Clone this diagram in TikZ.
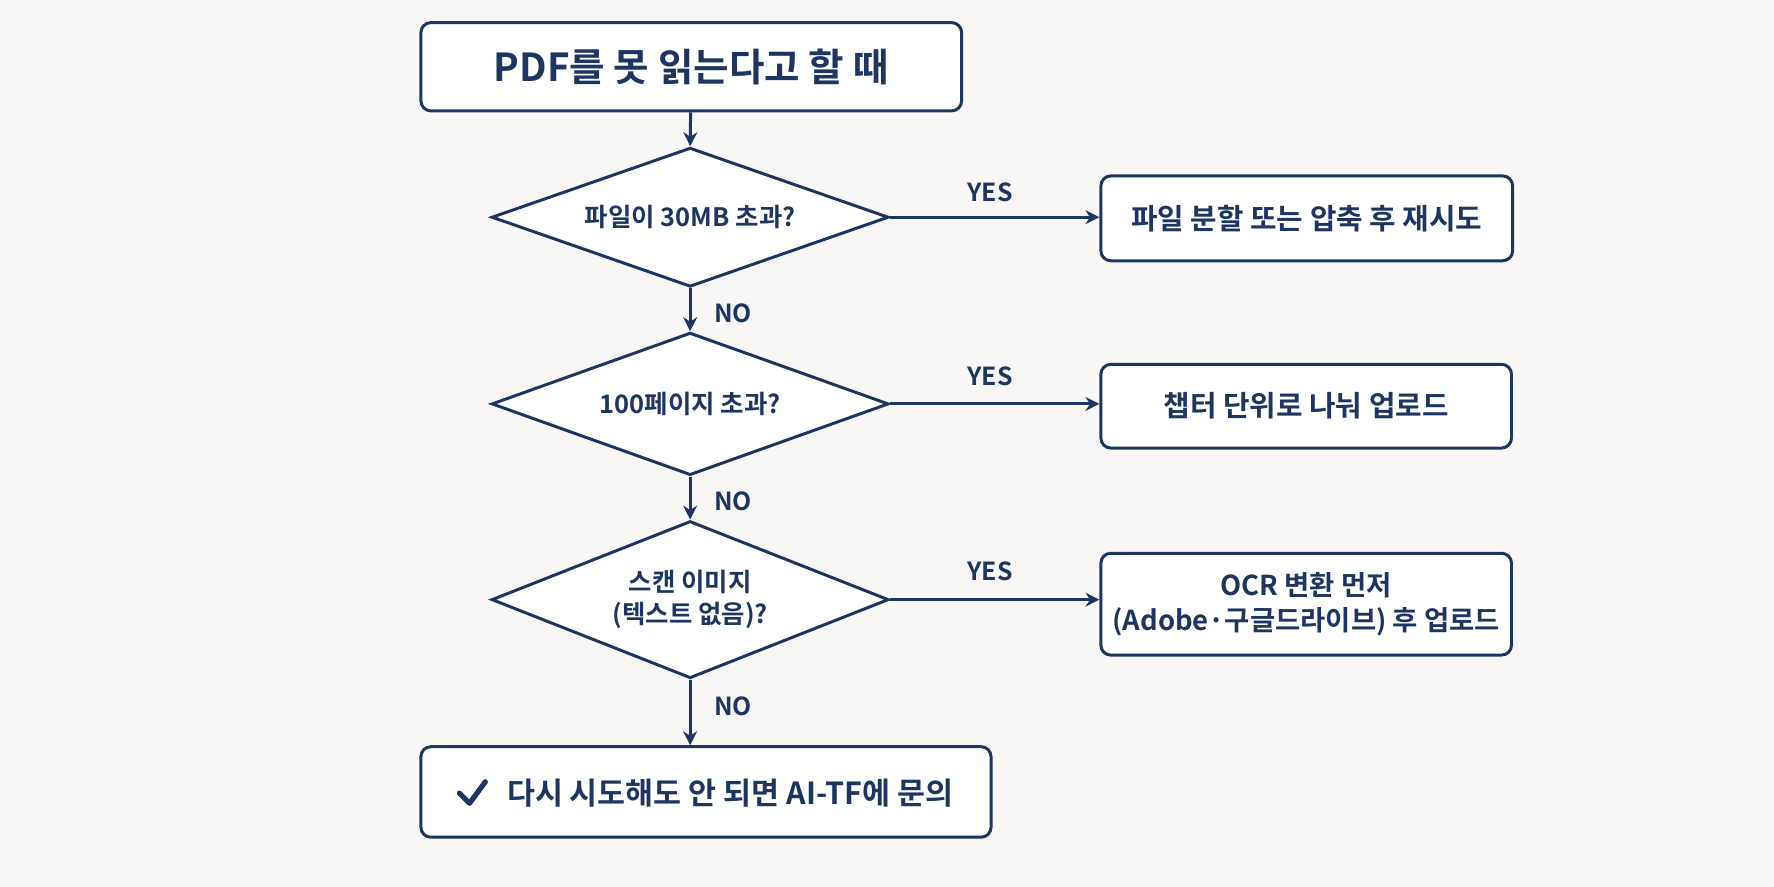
\documentclass[tikz,border=0pt]{standalone}
\usepackage{fontspec}
\setmainfont{Noto Sans CJK KR}[BoldFont={* Bold}]
\usetikzlibrary{shapes.geometric,arrows.meta}
\definecolor{navy}{HTML}{1F3561}
\definecolor{bg}{HTML}{F8F7F5}
\begin{document}
\begin{tikzpicture}[x=0.02cm,y=-0.02cm,
  box/.style={draw=navy,line width=1.5pt,rounded corners=5pt,fill=white,inner sep=0},
  dia/.style={draw=navy,line width=1.5pt,diamond,aspect=2.8,inner sep=0,fill=white,minimum width=7.02cm,minimum height=2.46cm},
  txt/.style={text=navy,font=\bfseries\fontsize{12.8}{16}\selectfont,align=center},
  btxt/.style={text=navy,font=\bfseries\fontsize{14.5}{19}\selectfont,align=center},
  lbl/.style={text=navy,font=\bfseries\fontsize{12.5}{15}\selectfont},
  arr/.style={draw=navy,line width=1.5pt,-{Stealth[length=7pt,width=7pt]}}]
\fill[bg] (0,0) rectangle (1568,784);
\useasboundingbox (0,0) rectangle (1568,784);
\node[box,minimum width=9.56cm,minimum height=1.56cm] (top) at (611,59) {};
\node[txt,font=\bfseries\fontsize{19.4}{22}\selectfont] at (top) {PDF를 못 읽는다고 할 때};
\node[dia] (d1) at (610,192) {};
\node[txt] at (d1) {파일이 30MB 초과?};
\node[dia,minimum height=2.52cm] (d2) at (610,357) {};
\node[txt] at (d2) {100페이지 초과?};
\node[dia,minimum height=2.78cm] (d3) at (610,530) {};
\node[txt] at (d3) {스캔 이미지\\(텍스트 없음)?};
\node[box,minimum width=7.28cm,minimum height=1.5cm] (b1) at (1155,193) {};
\node[btxt] at (b1) {파일 분할 또는 압축 후 재시도};
\node[box,minimum width=7.26cm,minimum height=1.48cm] (b2) at (1154.5,359) {};
\node[btxt] at (b2) {챕터 단위로 나눠 업로드};
\node[box,minimum width=7.26cm,minimum height=1.8cm] (b3) at (1154.5,534) {};
\node[btxt,font=\bfseries\fontsize{13.8}{18}\selectfont] at (b3) {OCR 변환 먼저\\(Adobe·구글드라이브) 후 업로드};
\node[box,minimum width=10.08cm,minimum height=1.6cm] (bot) at (624,700) {};
\node[txt,font=\bfseries\fontsize{15.3}{18}\selectfont,anchor=west] (bt) at (442,701) {다시 시도해도 안 되면 AI-TF에 문의};
\draw[navy,line width=2.6pt,line cap=round,line join=round] (406,701) -- (415,710) -- (429,691);
\draw[arr] (top) -- (d1.north);
\draw[arr] (d1) -- (d2.north);
\draw[arr] (d2) -- (d3.north);
\draw[arr] (d3.south) -- (bot.north-|d3.south);
\draw[arr] (d1.east) -- (b1.west|-d1.east);
\draw[arr] (d2.east) -- (b2.west|-d2.east);
\draw[arr] (d3.east) -- (b3.west|-d3.east);
\node[lbl] at (875,170) {YES};
\node[lbl] at (875,333) {YES};
\node[lbl] at (875,505) {YES};
\node[lbl] at (648,277) {NO};
\node[lbl] at (648,443) {NO};
\node[lbl] at (648,624) {NO};
\end{tikzpicture}
\end{document}
